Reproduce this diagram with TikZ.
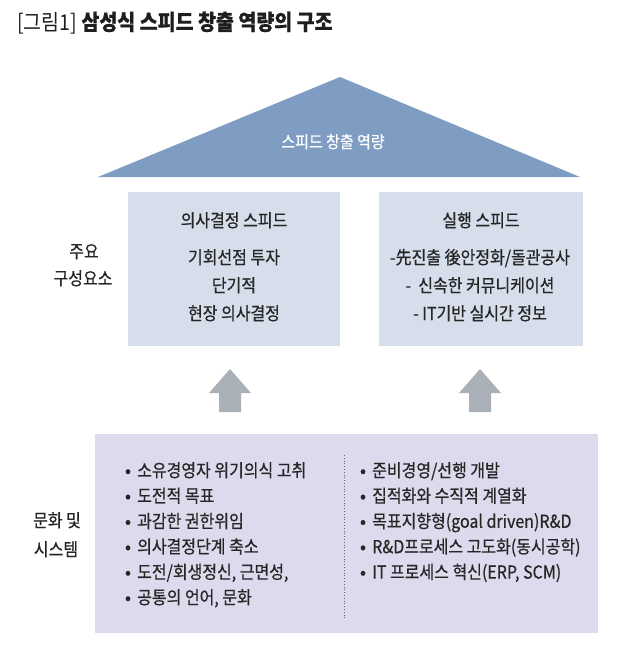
\documentclass[tikz,border=0pt]{standalone}
\usepackage{graphicx}
\usepackage{fontspec}
\setmainfont{Noto Sans CJK KR}[FakeBold=0.6]
\newfontfamily\titlefont{Noto Sans CJK KR}
\newcommand\tallt[1]{\scalebox{1}[1.12]{#1}}
\definecolor{roofblue}{HTML}{7F9CC3}
\definecolor{boxblue}{HTML}{D6DDEB}
\definecolor{boxlav}{HTML}{DCDBEE}
\definecolor{arrowgray}{HTML}{AAB0B8}
\definecolor{txt}{HTML}{262626}
\definecolor{ttl}{HTML}{1E1E1E}
\tikzset{
  body/.style={font=\fontsize{16}{18}\selectfont, text=txt, inner sep=0pt, anchor=base},
  item/.style={body, anchor=base west},
  dot/.style={body, anchor=base},
  blockarrow/.style={fill=arrowgray, draw=none},
}
\begin{document}
\begin{tikzpicture}[x=1pt,y=-1pt]
\useasboundingbox (0,0) rectangle (640,645);
\fill[white] (0,0) rectangle (640,645);
% title
\node[anchor=base west, inner sep=0pt, text=ttl, font=\fontsize{19.5}{22}\selectfont] (title) at (17,30) {\tallt{{\titlefont [그림1]} \textbf{삼성식 스피드 창출 역량의 구조}}};
% roof
\fill[roofblue] (98,177) -- (340,77) -- (580,177) -- cycle;
\node[body, text=white, font=\fontsize{15}{17}\selectfont] (roof) at (333,148) {\tallt{스피드 창출 역량}};
% top boxes
\fill[boxblue] (128,192) rectangle (340,346);
\fill[boxblue] (379,192) rectangle (583,346);
\node[body] (l1) at (234,227) {\tallt{의사결정 스피드}};
\node[body] (l2) at (234,264) {\tallt{기회선점 투자}};
\node[body] (l3) at (234,292) {\tallt{단기적}};
\node[body] (l4) at (234,320) {\tallt{현장 의사결정}};
\node[body] (r1) at (481,227) {\tallt{실행 스피드}};
\node[body] (r2) at (480,264) {\tallt{-先진출 後안정화/돌관공사}};
\node[body] (r3) at (480,292) {\tallt{-\ \ 신속한 커뮤니케이션}};
\node[body] (r4) at (480,320) {\tallt{- IT기반 실시간 정보}};
% side labels
\node[body] (s1) at (84,258) {\tallt{주요}};
\node[body] (s2) at (83,285) {\tallt{구성요소}};
\node[body] (s3) at (57,527) {\tallt{문화 및}};
\node[body] (s4) at (56,556) {\tallt{시스템}};
% arrows
\fill[blockarrow] (219,412) -- (219,393) -- (209,393) -- (230,369) -- (251,393) -- (241,393) -- (241,412) -- cycle;
\fill[blockarrow] (469,412) -- (469,393) -- (459,393) -- (480,369) -- (501,393) -- (491,393) -- (491,412) -- cycle;
% bottom box
\fill[boxlav] (95,434) rectangle (598,633);
\draw[gray!80!black, line width=0.8pt, dotted] (344,455) -- (344,620);
% left list
\foreach \t [count=\i] in {소유경영자 위기의식 고취, 도전적 목표, 과감한 권한위임, 의사결정단계 축소, {도전/회생정신, 근면성,}, {공통의 언어, 문화}} {
  \node[dot, font=\fontsize{18}{18}\selectfont] (bl\i) at (128,{477+25.4*(\i-1)}) {•};
  \node[item] (tl\i) at (137,{477+25.4*(\i-1)}) {\tallt{\t}};
}
% right list
\foreach \t [count=\i] in {준비경영/선행 개발, 집적화와 수직적 계열화, 목표지향형(goal driven)R\&D, R\&D프로세스 고도화(동시공학), {IT 프로세스 혁신(ERP, SCM)}} {
  \node[dot, font=\fontsize{18}{18}\selectfont] (br\i) at (363,{477+25.4*(\i-1)}) {•};
  \node[item] (tr\i) at (372,{477+25.4*(\i-1)}) {\tallt{\t}};
}
\end{tikzpicture}
\end{document}
